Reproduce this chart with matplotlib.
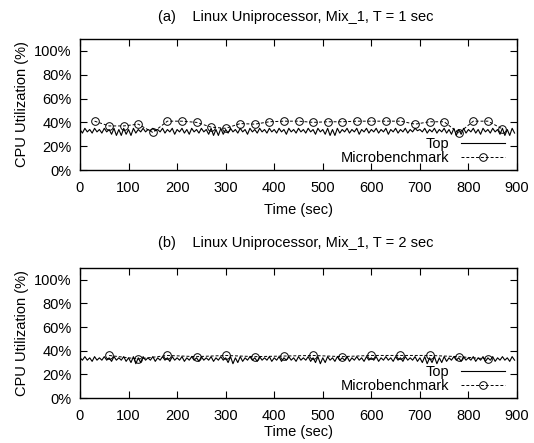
import numpy as np
import matplotlib
matplotlib.use("Agg")
import matplotlib.pyplot as plt

plt.rcParams['font.family'] = ['Liberation Sans', 'DejaVu Sans']
FS = 10.5

# "Top" samples, one every 5 seconds
top_a = [34, 31, 35, 32, 34, 31, 35, 32, 34, 31,
         35, 32, 34, 30, 35, 29, 34, 29, 35, 30,
         34, 29, 35, 31, 34, 32, 35, 32, 34, 33,
         35, 33, 34, 32, 35, 31, 34, 32, 35, 30,
         34, 32, 35, 31, 34, 30, 35, 32, 34, 31,
         35, 32, 34, 30, 35, 29, 34, 29, 35, 30,
         34, 31, 35, 32, 34, 31, 35, 32, 34, 30,
         35, 32, 34, 31, 35, 32, 34, 31, 35, 32,
         34, 31, 35, 32, 34, 30, 35, 32, 34, 31,
         35, 32, 34, 31, 35, 32, 34, 30, 35, 32,
         34, 30, 35, 29, 34, 29, 35, 31, 34, 32,
         35, 31, 34, 32, 35, 30, 34, 32, 35, 31,
         34, 32, 35, 31, 34, 32, 35, 30, 34, 32,
         35, 31, 34, 32, 35, 31, 34, 32, 35, 33,
         34, 32, 35, 31, 34, 32, 35, 31, 34, 32,
         35, 31, 34, 30, 35, 29, 34, 30, 35, 31,
         34, 32, 35, 31, 34, 30, 35, 32, 34, 31,
         35, 32, 34, 30, 35, 29, 34, 29, 35, 31]

top_b = [34, 32, 35, 32, 34, 31, 35, 32, 34, 32,
         35, 32, 34, 31, 35, 32, 34, 32, 35, 31,
         34, 30, 35, 29, 34, 30, 35, 32, 34, 32,
         35, 31, 34, 32, 35, 32, 34, 31, 35, 32,
         34, 32, 35, 31, 34, 32, 35, 32, 34, 31,
         35, 32, 34, 32, 35, 31, 34, 32, 35, 32,
         34, 30, 35, 29, 34, 30, 35, 31, 34, 32,
         35, 32, 34, 31, 35, 32, 34, 32, 35, 31,
         34, 32, 35, 31, 34, 32, 35, 32, 34, 31,
         35, 32, 34, 32, 35, 31, 34, 30, 35, 29,
         34, 30, 35, 32, 34, 31, 35, 32, 34, 32,
         35, 31, 34, 32, 35, 32, 34, 31, 35, 32,
         34, 32, 35, 31, 34, 32, 35, 32, 34, 31,
         35, 32, 34, 31, 35, 32, 34, 32, 35, 31,
         34, 30, 35, 29, 34, 30, 35, 29, 34, 30,
         35, 31, 34, 32, 35, 32, 34, 31, 35, 32,
         34, 32, 35, 31, 34, 32, 35, 31, 34, 32,
         35, 31, 34, 32, 35, 32, 34, 31, 35, 32]

top_t = np.arange(0, 900, 5)

# Microbenchmark measurements
micro_a_t = [30, 60, 90, 120, 150, 180, 210, 240, 270, 300, 330, 360, 390, 420, 450,
             480, 510, 540, 570, 600, 630, 660, 690, 720, 750, 780, 810, 840, 870]
micro_a = [41, 37, 37, 38.5, 31.5, 41, 41, 40, 36, 35, 39, 38.5, 40.5, 41, 41,
           40, 40.5, 40.5, 41, 41, 41, 41, 38.5, 40.5, 40.5, 31, 41, 41, 34.5]

micro_b_t = [60, 120, 180, 240, 300, 360, 420, 480, 540, 600, 660, 720, 780, 840]
micro_b = [36, 33, 36, 35, 36, 35, 35.5, 36, 35, 36, 36, 36, 35, 33]

titles = ["(a)    Linux Uniprocessor, Mix_1, T = 1 sec",
          "(b)    Linux Uniprocessor, Mix_1, T = 2 sec"]
xticks = list(range(0, 1000, 100))
yticks = list(range(0, 120, 20))

fig = plt.figure(figsize=(5.34, 4.43), dpi=100)
W, H = 534, 443


def make_axes(top_px, bottom_px):
    l, r = 80 / W, 517 / W
    return fig.add_axes([l, 1 - bottom_px / H, r - l, (bottom_px - top_px) / H])


panels = [
    (make_axes(39, 170), top_a, micro_a_t, micro_a, 17, 210),
    (make_axes(268, 398), top_b, micro_b_t, micro_b, 243, 432),
]

for i, (ax, top, mt, mv, ty, xy) in enumerate(panels):
    ax.plot(top_t, top, color='black', lw=0.8, label='Top')
    ax.plot(mt, mv, color='black', lw=0.7, ls=(0, (3, 2)), marker='o',
            mfc='none', mec='black', ms=5.5, mew=0.7, label='Microbenchmark')
    ax.set_xlim(0, 900)
    ax.set_ylim(0, 110)
    ax.set_xticks(xticks)
    ax.set_yticks(yticks)
    ax.set_yticklabels([f"{v}%" for v in yticks])
    ax.tick_params(direction='in', length=5, width=0.8, top=True, right=True,
                   labelsize=FS)
    ax.tick_params(axis='x', pad=8)
    ax.tick_params(axis='y', pad=6)
    for s in ax.spines.values():
        s.set_linewidth(1.0)
    ax.legend(loc='lower right', frameon=False, markerfirst=False, fontsize=FS,
              handlelength=3.0, numpoints=1, borderaxespad=0.0, labelspacing=0.0,
              handletextpad=0.8, bbox_to_anchor=(0.985, -0.01))
    fig.text(296 / W, 1 - ty / H, titles[i], ha='center', va='center', fontsize=FS)
    fig.text(298 / W, 1 - xy / H, "Time (sec)", ha='center', va='center', fontsize=FS)
    ax.set_ylabel("CPU Utilization (%)", fontsize=FS, labelpad=4)

fig.savefig("out.png", dpi=100)
